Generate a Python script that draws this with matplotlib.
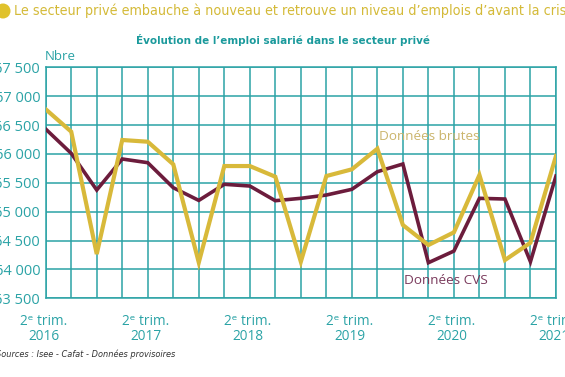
import matplotlib
matplotlib.use("Agg")
import matplotlib.pyplot as plt
from matplotlib.patches import Ellipse

HUM = ["Open Sans", "DejaVu Sans"]

# ---- data ----
quarters = list(range(21))  # 2e trim. 2016 .. 2e trim. 2021
tick_idx = [0, 4, 8, 12, 16, 20]
tick_labels = ["2ᵉ trim.\n2016", "2ᵉ trim.\n2017", "2ᵉ trim.\n2018",
               "2ᵉ trim.\n2019", "2ᵉ trim.\n2020", "2ᵉ trim.\n2021"]
donnees_cvs = [66430, 66010, 65375, 65912, 65848, 65415, 65195, 65474, 65444,
               65190, 65231, 65288, 65387, 65692, 65825, 64116, 64318, 65231,
               65219, 64133, 65617]
donnees_brutes = [66773, 66385, 64266, 66241, 66211, 65820, 64120, 65790, 65790,
                  65605, 64133, 65617, 65733, 66090, 64769, 64422, 64642, 65635,
                  64162, 64462, 65964]
y_ticks = [63500, 64000, 64500, 65000, 65500, 66000, 66500, 67000, 67500]

TEAL = "#2ba3a6"
GOLD = "#d8b93a"
MAROON = "#6c1c3c"

fig = plt.figure(figsize=(5.65, 3.77), dpi=100)
ax = fig.add_axes([0.0809, 0.2088, 0.9031, 0.6127])

ax.plot(quarters, donnees_cvs, color=MAROON, lw=2.6, solid_joinstyle="miter", zorder=3)
ax.plot(quarters, donnees_brutes, color=GOLD, lw=3.0, solid_joinstyle="miter", zorder=4)

ax.set_xlim(0, 20)
ax.set_ylim(63500, 67500)
ax.set_xticks(quarters)
ax.set_xticklabels(["" for _ in quarters])
ax.set_yticks(y_ticks)
ax.set_yticklabels([f"{v // 1000} {v % 1000:03d}" for v in y_ticks],
                   family=HUM, fontsize=10.5, color=TEAL)
ax.grid(True, color=TEAL, lw=1.1)
ax.tick_params(length=0, pad=4)
for s in ax.spines.values():
    s.set_color(TEAL)
    s.set_linewidth(1.1)

for i, lab in zip(tick_idx, tick_labels):
    ax.annotate(lab, xy=(i, 0), xycoords=("data", "axes fraction"),
                xytext=(-1.5, -11.5), textcoords="offset points",
                ha="center", va="top", family=HUM, fontsize=9.8, color=TEAL,
                linespacing=1.0, annotation_clip=False)

ax.text(13.05, 66310, "Données brutes", color="#cbb56c", fontsize=9.7,
        family=HUM, ha="left", va="center", zorder=5)
ax.text(14.05, 63800, "Données CVS", color="#7a3a5c", fontsize=9.7,
        family=HUM, ha="left", va="center", zorder=5)

fig.text(45 / 565, 1 - 57 / 377, "Nbre", color=TEAL, fontsize=9.5,
         family=HUM, ha="left", va="center")

fig.patches.append(Ellipse((3 / 565, 1 - 11 / 377), 15 / 565, 15 / 377,
                           transform=fig.transFigure,
                           facecolor="#e0c22c", edgecolor="none"))

renderer = fig.canvas.get_renderer()


def fit(text_obj, sample, target_px):
    t = fig.text(0, 0, sample, fontproperties=text_obj.get_fontproperties())
    w = t.get_window_extent(renderer).width
    t.remove()
    text_obj.set_fontsize(text_obj.get_fontsize() * target_px / w)


t1 = fig.text(14 / 565, 1 - 11 / 377,
              "Le secteur privé embauche à nouveau et retrouve un niveau d’emplois d’avant la crise",
              color="#d4ba38", fontsize=11, family="DejaVu Sans",
              fontstretch="condensed", ha="left", va="center")
fit(t1, "Le secteur privé embauche à nouveau et retrouve un niveau d’emplois d’avant la cris", 553)

t2 = fig.text(283 / 565, 1 - 40 / 377,
              "Évolution de l’emploi salarié dans le secteur privé",
              color="#1b9a9c", fontsize=10, family="DejaVu Sans",
              fontstretch="condensed", weight="bold", ha="center", va="center")
fit(t2, "Évolution de l’emploi salarié dans le secteur privé", 290)

t3 = fig.text(-4 / 565, 1 - 354 / 377, "Sources : Isee - Cafat - Données provisoires",
              color="#333333", fontsize=7, family="DejaVu Sans",
              fontstretch="condensed", style="oblique", ha="left", va="center")
fit(t3, "Sources : Isee - Cafat - Données provisoires", 180)

fig.savefig("out.png", dpi=100)
